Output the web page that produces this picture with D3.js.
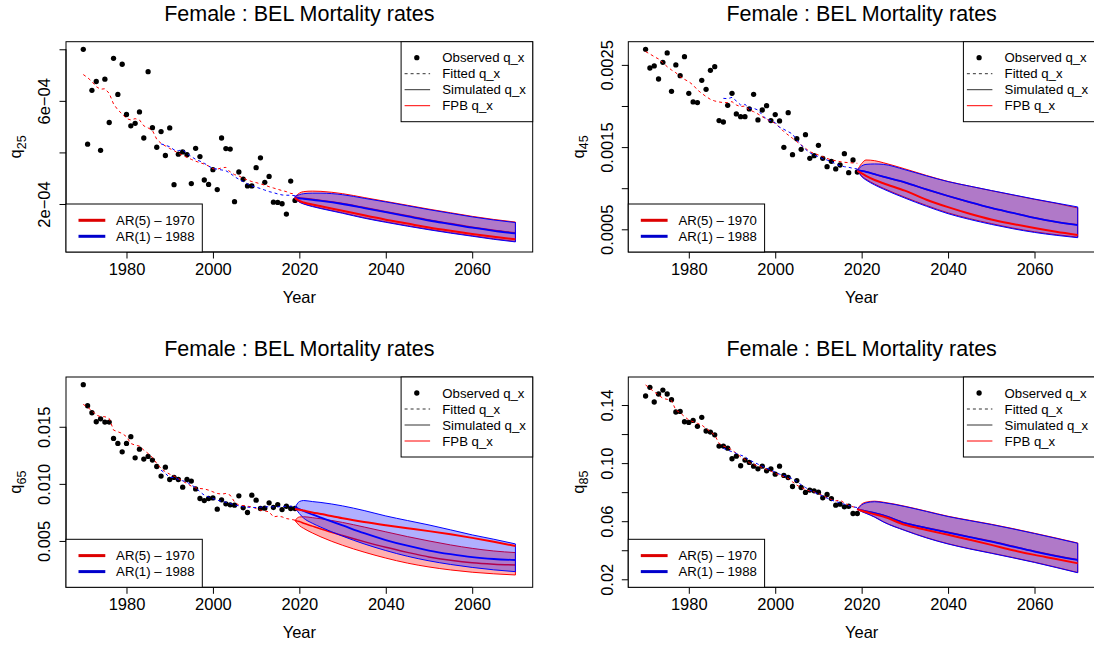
<!DOCTYPE html>
<html><head><meta charset="utf-8">
<script src="https://cdn.jsdelivr.net/npm/d3@7"></script>
<style>
body{margin:0;background:#fff}
svg{display:block}
text{font-family:"Liberation Sans",Arial,Helvetica,sans-serif;fill:#000}
</style></head>
<body><svg id="c" width="1094" height="646"></svg>
<script>
// ---------------- data ----------------
const years = d3.range(1970, 2020);          // observed / fitted years (AR(5) - 1970)
const fitBlueYears = d3.range(1988, 2020);   // AR(1) - 1988 fitted years
const fcYears = [2019,2020,2021,2023,2025,2030,2035,2040,2045,2050,2055,2060,2065,2070];
const xTicks = [1980,2000,2020,2040,2060];

// panel 1 : q25  (values in units of 1e-4)
const p1Obs = [8.00,4.32,6.41,6.75,4.08,6.84,5.16,7.65,6.25,7.42, 5.47,5.03,5.13,5.57,4.56,7.13,4.96,4.20,4.81,3.88, 4.95,2.75,3.93,4.02,3.91,2.79,4.16,3.84,2.93,2.76, 3.33,2.56,4.56,4.15,4.13,2.09,3.24,2.96,2.70,2.70, 3.41,3.79,2.84,3.07,2.07,2.06,2.01,1.61,2.89,2.14];
const p1FitRed = [7.02,6.90,6.75,6.55,6.45,6.47,6.29,5.88,5.65,5.49, 5.31,5.26,5.31,5.26,5.03,4.95,4.85,4.51,4.35,4.25, 4.15,4.07,3.97,3.89,3.81,3.73,3.66,3.60,3.55,3.47, 3.37,3.35,3.40,3.42,3.24,3.14,3.09,3.00,2.93,2.87, 2.83,2.78,2.73,2.67,2.62,2.57,2.52,2.48,2.41,2.39];
const p1FitBlue = [4.33,4.28,4.22,4.10,4.07,4.10,3.97,3.84,3.73,3.66, 3.58,3.47,3.38,3.35,3.32,3.29,3.19,3.06,2.96,2.87, 2.78,2.70,2.65,2.60,2.54,2.48,2.44,2.39,2.35,2.34, 2.34,2.32];
const p1RedHi  = [2.28,2.42,2.48,2.50,2.49,2.40,2.25,2.10,1.95,1.80,1.66,1.52,1.40,1.30];
const p1RedLo  = [2.20,2.08,2.01,1.92,1.84,1.66,1.47,1.31,1.16,1.02,0.89,0.77,0.65,0.55];
const p1BlueHi = [2.30,2.36,2.40,2.42,2.42,2.36,2.22,2.08,1.93,1.78,1.64,1.50,1.38,1.28];
const p1BlueLo = [2.22,2.07,2.00,1.90,1.82,1.64,1.45,1.29,1.14,1.00,0.87,0.75,0.63,0.53];
const p1RedMed  = [2.27,2.24,2.22,2.18,2.14,2.02,1.86,1.70,1.54,1.38,1.24,1.10,0.98,0.88];
const p1BlueMed = [2.26,2.22,2.20,2.16,2.12,2.00,1.84,1.68,1.52,1.36,1.22,1.08,0.96,0.86];
const p1Fpb     = [2.24,2.12,2.06,1.98,1.91,1.74,1.56,1.39,1.24,1.09,0.96,0.84,0.73,0.63];
const p1YLim = [0.138, 8.294];
const p1YTicks = [2,4,6,8];
const p1YLabels = ["2e\u221204","","6e\u221204",""];

// panel 2 : q45  (units of 1e-3)
const p2Obs = [2.689,2.462,2.487,2.328,2.531,2.645,2.178,2.499,2.369,2.600, 2.154,2.049,2.041,2.312,2.203,2.434,2.478,1.822,1.805,2.008, 2.154,1.903,1.870,1.870,1.964,2.142,1.830,1.951,2.004,1.822, 1.895,1.818,1.497,1.919,1.408,1.603,1.473,1.651,1.363,1.396, 1.522,1.363,1.262,1.327,1.234,1.282,1.420,1.189,1.343,1.197];
const p2FitRed = [2.661,2.633,2.600,2.572,2.527,2.478,2.438,2.405,2.357,2.324, 2.296,2.255,2.195,2.154,2.114,2.081,2.061,2.049,2.041,2.041, 2.053,2.012,1.992,2.000,1.951,1.931,1.903,1.870,1.838,1.814, 1.789,1.741,1.688,1.647,1.607,1.566,1.526,1.485,1.444,1.424, 1.404,1.384,1.363,1.343,1.335,1.323,1.315,1.311,1.307,1.303];
const p2FitBlue = [2.093,2.089,2.105,2.061,2.012,2.020,1.972,1.972,1.951,1.891, 1.838,1.822,1.797,1.741,1.716,1.688,1.659,1.586,1.526,1.473, 1.432,1.404,1.384,1.359,1.343,1.323,1.294,1.274,1.262,1.254, 1.242,1.234];
const p2RedHi  = [1.22,1.30,1.343,1.335,1.310,1.235,1.155,1.082,1.025,0.970,0.917,0.865,0.816,0.760];
const p2RedLo  = [1.22,1.15,1.11,1.05,1.00,0.890,0.790,0.700,0.630,0.570,0.515,0.470,0.435,0.405];
const p2BlueHi = [1.22,1.27,1.29,1.295,1.290,1.225,1.150,1.080,1.025,0.972,0.920,0.868,0.820,0.772];
const p2BlueLo = [1.22,1.14,1.10,1.04,0.99,0.880,0.780,0.690,0.620,0.560,0.507,0.462,0.427,0.398];
const p2RedMed  = [1.22,1.21,1.20,1.17,1.14,1.07,0.985,0.905,0.830,0.760,0.700,0.640,0.590,0.555];
const p2BlueMed = [1.22,1.21,1.20,1.17,1.14,1.07,0.985,0.905,0.830,0.760,0.700,0.640,0.590,0.552];
const p2Fpb     = [1.21,1.18,1.15,1.10,1.06,0.97,0.860,0.770,0.690,0.620,0.565,0.515,0.470,0.431];
const p2YLim = [0.224, 2.782];
const p2YTicks = [0.5,1.0,1.5,2.0,2.5];
const p2YLabels = ["0.0005","","0.0015","","0.0025"];

// panel 3 : q65  (units of 1e-3)
const p3Obs = [18.69,16.84,16.23,15.44,15.70,15.41,15.41,13.98,13.54,12.81, 13.54,14.13,12.28,13.04,12.17,12.40,12.08,11.52,10.68,11.46, 10.38,10.56,10.38,9.71,10.38,10.24,9.56,8.72,8.54,8.72, 8.77,7.78,8.60,8.25,8.16,8.13,8.95,7.90,7.49,9.01, 8.57,7.84,7.87,8.34,7.93,8.19,7.75,8.04,7.84,7.84];
const p3FitRed = [16.96,16.70,16.41,16.03,15.88,15.88,15.73,14.71,14.56,14.42, 14.13,13.54,13.39,13.31,12.96,12.66,12.31,11.79,11.35,11.06, 10.85,10.68,10.47,10.24,10.03,9.80,9.65,9.59,9.56,9.45, 9.30,9.16,9.10,9.16,9.01,8.42,8.13,8.10,8.04,7.99, 7.84,7.69,7.63,7.55,7.11,7.17,7.11,6.96,6.90,6.82];
const p3FitBlue = [11.20,10.91,10.56,10.56,10.38,10.27,10.15,9.89,9.68,9.30, 9.01,8.86,8.72,8.57,8.48,8.39,8.28,8.16,8.07,7.99, 7.96,7.93,7.93,7.96,7.99,7.99,7.99,7.99,8.01,8.04, 8.04,8.04];
const p3RedHi  = [6.80,7.10,7.12,7.04,6.94,6.62,6.22,5.80,5.38,5.00,4.65,4.35,4.12,3.98];
const p3RedLo  = [6.80,6.35,6.10,5.70,5.35,4.62,4.02,3.50,3.06,2.72,2.46,2.26,2.12,2.02];
const p3BlueHi = [7.90,8.45,8.54,8.45,8.37,8.07,7.66,7.19,6.79,6.40,5.97,5.53,5.15,4.74];
const p3BlueLo = [7.90,7.40,7.00,6.55,6.20,5.42,4.74,4.16,3.66,3.26,2.94,2.68,2.47,2.31];
const p3RedMed  = [6.80,6.70,6.55,6.30,6.05,5.48,4.94,4.44,4.00,3.60,3.30,3.08,2.96,2.89];
const p3BlueMed = [7.90,7.80,7.62,7.32,7.04,6.36,5.68,5.08,4.58,4.16,3.84,3.58,3.42,3.33];
const p3Fpb     = [7.81,7.74,7.66,7.50,7.36,6.98,6.66,6.38,6.12,5.86,5.58,5.27,4.93,4.56];
const p3YLim = [0.94, 19.36];
const p3YTicks = [5,10,15];
const p3YLabels = ["0.005","0.010","0.015"];

// panel 4 : q85
const p4Obs = [0.1462,0.1522,0.1421,0.1476,0.1503,0.1476,0.1437,0.1352,0.1356,0.1285, 0.1280,0.1294,0.1253,0.1315,0.1221,0.1214,0.1195,0.1117,0.1117,0.1103, 0.1030,0.1048,0.0982,0.1021,0.1005,0.0979,0.0961,0.0979,0.0947,0.0961, 0.0924,0.0979,0.0915,0.0901,0.0839,0.0880,0.0832,0.0798,0.0814,0.0809, 0.0800,0.0761,0.0784,0.0756,0.0710,0.0717,0.0699,0.0703,0.0653,0.0653];
const p4FitRed = [0.1538,0.1515,0.1490,0.1469,0.1446,0.1439,0.1430,0.1366,0.1347,0.1320, 0.1297,0.1285,0.1274,0.1262,0.1239,0.1216,0.1193,0.1136,0.1117,0.1108, 0.1090,0.1067,0.1044,0.1025,0.1002,0.0991,0.0979,0.0970,0.0956,0.0945, 0.0929,0.0917,0.0906,0.0894,0.0871,0.0848,0.0832,0.0818,0.0809,0.0802, 0.0791,0.0777,0.0763,0.0749,0.0740,0.0745,0.0726,0.0710,0.0699,0.0694];
const p4FitBlue = [0.1101,0.1090,0.1078,0.1067,0.1055,0.1044,0.1021,0.1007,0.0993,0.0979, 0.0966,0.0952,0.0938,0.0924,0.0915,0.0906,0.0892,0.0874,0.0851,0.0832, 0.0814,0.0800,0.0786,0.0772,0.0759,0.0745,0.0736,0.0726,0.0717,0.0708, 0.0699,0.0694];
const p4RedHi  = [0.0683,0.0718,0.0731,0.0738,0.0731,0.0703,0.0669,0.0634,0.0606,0.0579,0.0549,0.0517,0.0484,0.0450];
const p4RedLo  = [0.0683,0.0668,0.0656,0.0630,0.0597,0.0538,0.0487,0.0445,0.0411,0.0381,0.0350,0.0318,0.0283,0.0247];
const p4BlueHi = [0.0683,0.0712,0.0726,0.0734,0.0728,0.0701,0.0667,0.0632,0.0604,0.0577,0.0547,0.0515,0.0482,0.0448];
const p4BlueLo = [0.0683,0.0666,0.0654,0.0628,0.0595,0.0536,0.0485,0.0443,0.0409,0.0379,0.0348,0.0316,0.0281,0.0245];
const p4RedMed  = [0.0683,0.0676,0.0669,0.0656,0.0641,0.0588,0.0555,0.0524,0.0492,0.0462,0.0427,0.0393,0.0362,0.0335];
const p4BlueMed = [0.0683,0.0675,0.0668,0.0655,0.0640,0.0586,0.0553,0.0522,0.0490,0.0460,0.0425,0.0391,0.0360,0.0333];
const p4Fpb     = [0.0683,0.0672,0.0663,0.0648,0.0632,0.0575,0.0540,0.0506,0.0472,0.0437,0.0400,0.0368,0.0340,0.0310];
const p4YLim = [0.01448, 0.1593];
const p4YTicks = [0.02,0.04,0.06,0.08,0.10,0.12,0.14];
const p4YLabels = ["0.02","","0.06","","0.10","","0.14"];

const titleText = "Female : BEL Mortality rates";
const legendTop = ["Observed q_x","Fitted q_x","Simulated q_x","FPB q_x"];
const legendModels = ["AR(5) \u2013 1970","AR(1) \u2013 1988"];

// ---------------- layout ----------------
const panels = [
  {left:66,   top:41.7, age:"25", obs:p1Obs, fitR:p1FitRed, fitB:p1FitBlue, rHi:p1RedHi, rLo:p1RedLo, bHi:p1BlueHi, bLo:p1BlueLo, rMed:p1RedMed, bMed:p1BlueMed, fpb:p1Fpb, ylim:p1YLim, yt:p1YTicks, yl:p1YLabels, titleY:21},
  {left:628.3,top:41.7, age:"45", obs:p2Obs, fitR:p2FitRed, fitB:p2FitBlue, rHi:p2RedHi, rLo:p2RedLo, bHi:p2BlueHi, bLo:p2BlueLo, rMed:p2RedMed, bMed:p2BlueMed, fpb:p2Fpb, ylim:p2YLim, yt:p2YTicks, yl:p2YLabels, titleY:21},
  {left:66,   top:377,  age:"65", obs:p3Obs, fitR:p3FitRed, fitB:p3FitBlue, rHi:p3RedHi, rLo:p3RedLo, bHi:p3BlueHi, bLo:p3BlueLo, rMed:p3RedMed, bMed:p3BlueMed, fpb:p3Fpb, ylim:p3YLim, yt:p3YTicks, yl:p3YLabels, titleY:356},
  {left:628.3,top:377,  age:"85", obs:p4Obs, fitR:p4FitRed, fitB:p4FitBlue, rHi:p4RedHi, rLo:p4RedLo, bHi:p4BlueHi, bLo:p4BlueLo, rMed:p4RedMed, bMed:p4BlueMed, fpb:p4Fpb, ylim:p4YLim, yt:p4YTicks, yl:p4YLabels, titleY:356}
];
const W = 466.7, H = 210.3;
const RED = "#FF0000", BLUE = "#0000FF";
const FS = 16.5;
const svg = d3.select("#c");

panels.forEach(p => {
  const g = svg.append("g");
  const x = d3.scaleLinear().domain([1966, 2074]).range([p.left, p.left + W]);
  const y = d3.scaleLinear().domain(p.ylim).range([p.top + H, p.top]);
  const bottom = p.top + H, right = p.left + W;

  // title
  g.append("text").attr("x", p.left + W/2).attr("y", p.titleY)
    .attr("text-anchor","middle").attr("font-size", 21.5).text(titleText);

  // x axis
  const xa = g.append("g").attr("transform", `translate(0,${bottom})`)
    .call(d3.axisBottom(x).tickValues(xTicks).tickFormat(d3.format("d")).tickSize(6.5).tickPadding(4.5));
  xa.select(".domain").attr("d", `M${x(xTicks[0])},0H${x(xTicks[xTicks.length-1])}`).attr("stroke","#000");
  xa.selectAll(".tick line").attr("stroke","#000");
  xa.selectAll(".tick text").attr("font-size",FS).attr("font-family","Liberation Sans, Arial, sans-serif").attr("fill","#000");
  g.append("text").attr("x", p.left + W/2).attr("y", bottom + 50.5)
    .attr("text-anchor","middle").attr("font-size",FS).text("Year");

  // y axis
  const ya = g.append("g").attr("transform", `translate(${p.left},0)`)
    .call(d3.axisLeft(y).tickValues(p.yt).tickFormat((d,i) => p.yl[i]).tickSize(6.5));
  ya.select(".domain").attr("d", `M0,${y(p.yt[0])}V${y(p.yt[p.yt.length-1])}`).attr("stroke","#000");
  ya.selectAll(".tick line").attr("stroke","#000");
  ya.selectAll(".tick text")
    .attr("x", 0).attr("y", 0).attr("dy", null)
    .attr("text-anchor","middle").attr("font-size",FS)
    .attr("font-family","Liberation Sans, Arial, sans-serif").attr("fill","#000")
    .attr("transform","translate(-21.5,0) rotate(-90) translate(0,5.8)");
  const yl = g.append("text").attr("transform", `translate(${p.left - 50.3},${p.top + H/2}) rotate(-90)`)
    .attr("text-anchor","middle").attr("font-size",FS).attr("dy","0.35em");
  yl.append("tspan").text("q");
  yl.append("tspan").attr("font-size",12.5).attr("dy","0.35em").text(p.age);

  // clip
  const cid = "clip" + p.age;
  svg.append("clipPath").attr("id", cid).append("rect")
    .attr("x", p.left).attr("y", p.top).attr("width", W).attr("height", H);
  const pg = g.append("g").attr("clip-path", `url(#${cid})`);

  // observed points
  pg.selectAll("circle.obs").data(p.obs).join("circle")
    .attr("cx", (d,i) => x(years[i])).attr("cy", d => y(d)).attr("r", 2.65).attr("fill","#000");

  // fitted dashed lines
  const line = d3.line();
  pg.append("path").attr("d", line(p.fitR.map((d,i) => [x(years[i]), y(d)])))
    .attr("fill","none").attr("stroke",RED).attr("stroke-width",1).attr("stroke-dasharray","3,3");
  pg.append("path").attr("d", line(p.fitB.map((d,i) => [x(fitBlueYears[i]), y(d)])))
    .attr("fill","none").attr("stroke",BLUE).attr("stroke-width",1).attr("stroke-dasharray","3,3");

  // forecast bands and lines
  const area = d3.area().x(d => d[0]).y0(d => d[1]).y1(d => d[2]).curve(d3.curveMonotoneX);
  const sline = d3.line().curve(d3.curveMonotoneX);
  const band = (lo, hi, col, fill) => {
    pg.append("path").attr("d", area(fcYears.map((yr,i) => [x(yr), y(lo[i]), y(hi[i])])) + "Z")
      .attr("fill", fill).attr("stroke", col).attr("stroke-width",1);
  };
  const fline = (vals, col, w) => {
    pg.append("path").attr("d", sline(fcYears.map((yr,i) => [x(yr), y(vals[i])])))
      .attr("fill","none").attr("stroke",col).attr("stroke-width",w);
  };
  band(p.rLo, p.rHi, RED, "rgba(255,0,0,0.31)");
  fline(p.rMed, RED, 1.5);
  band(p.bLo, p.bHi, BLUE, "rgba(0,0,255,0.31)");
  fline(p.bMed, BLUE, 1.8);
  fline(p.fpb, RED, 2);

  // box
  g.append("rect").attr("x", p.left).attr("y", p.top).attr("width", W).attr("height", H)
    .attr("fill","none").attr("stroke","#000").attr("stroke-width",1);

  // top-right legend
  const lg = g.append("g").attr("transform", `translate(${right - 131.6},${p.top})`);
  lg.append("rect").attr("width",131.6).attr("height",80).attr("fill","#fff").attr("stroke","#000");
  legendTop.forEach((t,i) => {
    const yy = 16 + 16*i;
    if (i === 0) lg.append("circle").attr("cx",15.7).attr("cy",yy).attr("r",2.65).attr("fill","#000");
    else lg.append("line").attr("x1",3.5).attr("x2",29).attr("y1",yy).attr("y2",yy)
      .attr("stroke", i === 3 ? RED : "#333").attr("stroke-width",1)
      .attr("stroke-dasharray", i === 1 ? "3,3" : null);
    lg.append("text").attr("x",41.2).attr("y",yy).attr("dy","0.35em").attr("font-size",13.2).text(t);
  });

  // bottom-left legend
  const lb = g.append("g").attr("transform", `translate(${p.left},${bottom - 48})`);
  lb.append("rect").attr("width",136.3).attr("height",48).attr("fill","#fff").attr("stroke","#000");
  legendModels.forEach((t,i) => {
    const yy = 16.3 + 16*i;
    lb.append("line").attr("x1",12.5).attr("x2",39.3).attr("y1",yy).attr("y2",yy)
      .attr("stroke", i === 0 ? "#DD0000" : "#0000CC").attr("stroke-width",3);
    lb.append("text").attr("x",50.1).attr("y",yy).attr("dy","0.35em").attr("font-size",13.2).text(t);
  });
});
</script></body></html>
